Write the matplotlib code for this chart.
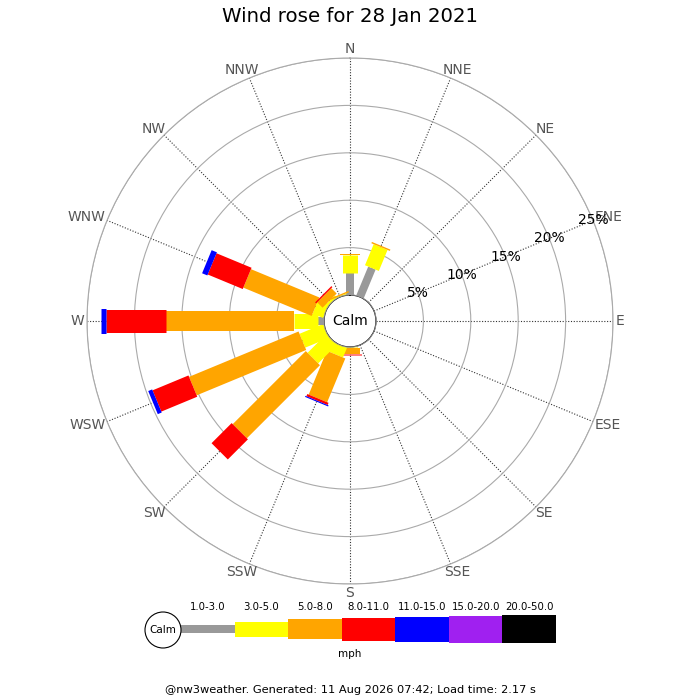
import numpy as np
import matplotlib
matplotlib.use("Agg")
import matplotlib.pyplot as plt
import matplotlib.patches as patches

# 16 compass points, clockwise from north
directions = ["N", "NNE", "NE", "ENE", "E", "ESE", "SE", "SSE",
              "S", "SSW", "SW", "WSW", "W", "WNW", "NW", "NNW"]

speed_bins = ["1.0-3.0", "3.0-5.0", "5.0-8.0", "8.0-11.0",
              "11.0-15.0", "15.0-20.0", "20.0-50.0"]
bin_colors = ["#999999", "#ffff00", "#ffa500", "#ff0000",
              "#0000ff", "#a020f0", "#000000"]

# percent of time per direction, one list per speed bin
pct_1_3 = [2.3, 3.3, 0, 0, 0, 0, 0, 0, 0, 0, 0, 0, 0.6, 0, 0, 0]
pct_3_5 = [1.9, 2.4, 0, 0, 0, 0, 0, 0, 0.1, 1.1, 2.8, 2.7, 2.6, 1.2, 0.3, 0.1]
pct_5_8 = [0.12, 0.15, 0, 0, 0, 0, 0, 0, 0.6, 5.0, 10.9, 12.5, 13.5, 7.8, 0.8, 0.15]
pct_8_11 = [0, 0, 0, 0, 0, 0, 0, 0, 0.12, 0.25, 3.0, 4.1, 6.3, 4.0, 0.15, 0]
pct_11_15 = [0, 0, 0, 0, 0, 0, 0, 0, 0, 0.12, 0, 0.45, 0.5, 0.6, 0, 0]
pct_15_20 = [0] * 16
pct_20_50 = [0] * 16
series = [pct_1_3, pct_3_5, pct_5_8, pct_8_11, pct_11_15, pct_15_20, pct_20_50]

ring_values = [5, 10, 15, 20, 25]
r_max = 25

# bar thickness (pixels) grows with speed
bar_px = [8, 15, 20, 23, 25, 27, 28]
DPI = 100
bar_lw = [p * 72 / DPI for p in bar_px]

fig = plt.figure(figsize=(7, 7), dpi=DPI)
ax = fig.add_axes([87 / 700, 116 / 700, 526 / 700, 526 / 700], projection="polar")
ax.set_theta_zero_location("N")
ax.set_theta_direction(-1)
ax.set_ylim(0, r_max)
ax.set_rorigin(-2.74)

angles = np.deg2rad(np.arange(16) * 22.5)

# grid
ax.set_xticks(angles)
ax.set_xticklabels([])
ax.set_yticks(ring_values)
ax.set_yticklabels([])
ax.xaxis.grid(True, color="#333333", linestyle=(0, (1, 1.5)), linewidth=0.8)
ax.yaxis.grid(True, color="#aaaaaa", linestyle="-", linewidth=0.8)
ax.spines["polar"].set_color("#aaaaaa")
ax.spines["polar"].set_linewidth(0.8)
ax.spines["inner"].set_visible(False)

# stacked radial bars
for d, th in enumerate(angles):
    base = 0.0
    for b in range(len(speed_bins)):
        v = series[b][d]
        if v > 0:
            ax.plot([th, th], [base, base + v], color=bin_colors[b],
                    linewidth=bar_lw[b], solid_capstyle="butt", zorder=3)
        base += v

# direction labels just outside the outer ring, pushed out by their own size
renderer = fig.canvas.get_renderer()
pad = 3
for lab, th in zip(directions, angles):
    t = ax.annotate(lab, xy=(th, r_max), xytext=(0, 0), textcoords="offset pixels",
                    ha="center", va="center", fontsize=10, color="#555555",
                    annotation_clip=False)
    bb = t.get_window_extent(renderer)
    s, c = np.sin(th), np.cos(th)
    t.set_position((s * (pad + bb.width / 2), c * (pad + bb.height / 2 - 1)))

# ring labels along ENE
for r in ring_values:
    ax.text(np.deg2rad(67.5), r, f"{r}%", ha="center", va="center",
            fontsize=10, color="black", zorder=4)

# calm circle in the middle
calm = patches.Circle((0.5, 0.5), 26 / 526, transform=ax.transAxes,
                      facecolor="white", edgecolor="#999999", linewidth=1, zorder=5)
ax.add_patch(calm)
ax.text(0.5, 0.5, "Calm", transform=ax.transAxes, ha="center", va="center",
        fontsize=10, zorder=6)

fig.text(0.5, 1 - 17 / 700, "Wind rose for 28 Jan 2021", ha="center", va="center",
         fontsize=14.2)

# legend
leg = fig.add_axes([181 / 700, 50 / 700, 375 / 700, 42 / 700])
leg.set_xlim(0, len(speed_bins))
leg.set_ylim(-21, 21)
leg.axis("off")
heights = np.array(bar_px)
leg.bar(np.arange(len(speed_bins)), heights, bottom=-heights / 2, width=1,
        align="edge", color=bin_colors, linewidth=0)
for i, lab in enumerate(speed_bins):
    leg.text(i + 0.5, 22, lab, ha="center", va="center", fontsize=7.3, clip_on=False)

leg_calm = patches.Circle((163 / 700, 70 / 700), 18 / 700, transform=fig.transFigure,
                          facecolor="white", edgecolor="black", linewidth=0.8)
fig.patches.append(leg_calm)
fig.text(163 / 700, 70 / 700, "Calm", ha="center", va="center", fontsize=7.5)
fig.text(0.5, 46 / 700, "mph", ha="center", va="center", fontsize=7.5)
fig.text(0.5, 10 / 700, "@nw3weather. Generated: 11 Aug 2026 07:42; Load time: 2.17 s",
         ha="center", va="center", fontsize=8.2)

fig.savefig("out.png", dpi=DPI)
